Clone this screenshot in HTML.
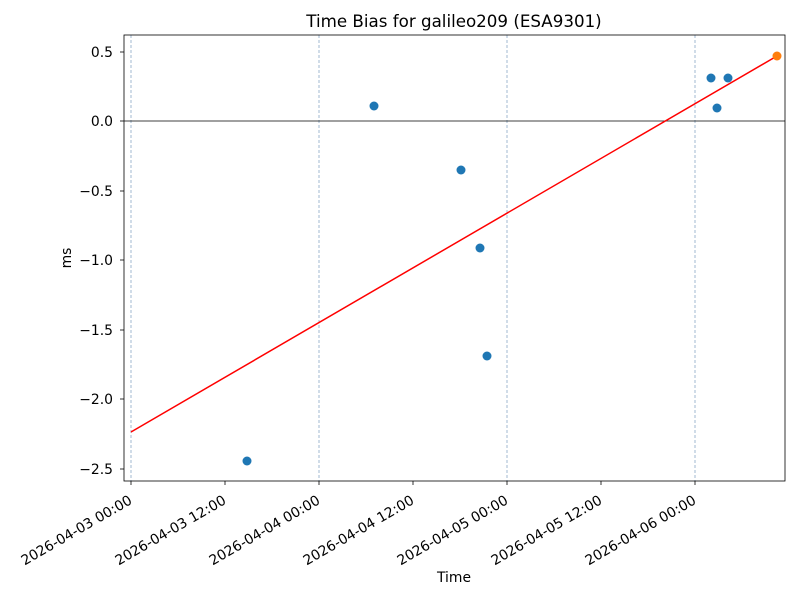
<!DOCTYPE html>
<html><head><meta charset="utf-8"><style>body{margin:0;background:#fff}</style></head><body>
<svg width="800" height="600" xmlns="http://www.w3.org/2000/svg" font-family="DejaVu Sans, sans-serif">
<rect width="800" height="600" fill="#fff"/>
<g stroke="#7a9cbf" stroke-width="0.7" stroke-dasharray="3,2">
<line x1="131" y1="35" x2="131" y2="481"/><line x1="319" y1="35" x2="319" y2="481"/>
<line x1="507" y1="35" x2="507" y2="481"/><line x1="695" y1="35" x2="695" y2="481"/>
</g>
<line x1="124" y1="121" x2="785" y2="121" stroke="#000" stroke-width="0.8"/>
<line x1="131" y1="432" x2="777" y2="56" stroke="#f00" stroke-width="1.5"/>
<g fill="#1f77b4">
<circle cx="247" cy="461" r="4.5"/><circle cx="374" cy="106" r="4.5"/><circle cx="461" cy="170" r="4.5"/>
<circle cx="480" cy="248" r="4.5"/><circle cx="487" cy="356" r="4.5"/><circle cx="711" cy="78" r="4.5"/>
<circle cx="717" cy="108" r="4.5"/><circle cx="728" cy="78" r="4.5"/>
</g>
<circle cx="777" cy="56" r="4.5" fill="#ff7f0e"/>
<rect x="124" y="35" width="661" height="446" fill="none" stroke="#000" stroke-width="0.8"/>
<g stroke="#000" stroke-width="0.8">
<line x1="120" y1="52" x2="124" y2="52"/><line x1="120" y1="121" x2="124" y2="121"/><line x1="120" y1="191" x2="124" y2="191"/>
<line x1="120" y1="260" x2="124" y2="260"/><line x1="120" y1="330" x2="124" y2="330"/><line x1="120" y1="399" x2="124" y2="399"/>
<line x1="120" y1="469" x2="124" y2="469"/>
<line x1="131" y1="481" x2="131" y2="485"/><line x1="225" y1="481" x2="225" y2="485"/><line x1="319" y1="481" x2="319" y2="485"/>
<line x1="413" y1="481" x2="413" y2="485"/><line x1="507" y1="481" x2="507" y2="485"/><line x1="601" y1="481" x2="601" y2="485"/>
<line x1="695" y1="481" x2="695" y2="485"/>
</g>
<g font-size="13.9" text-anchor="end" fill="#000">
<text x="113" y="57">0.5</text><text x="113" y="126">0.0</text><text x="113" y="196">−0.5</text>
<text x="113" y="265">−1.0</text><text x="113" y="335">−1.5</text><text x="113" y="404">−2.0</text><text x="113" y="474">−2.5</text>
<text transform="translate(133,503) rotate(-30)">2026-04-03 00:00</text>
<text transform="translate(227,503) rotate(-30)">2026-04-03 12:00</text>
<text transform="translate(321,503) rotate(-30)">2026-04-04 00:00</text>
<text transform="translate(415,503) rotate(-30)">2026-04-04 12:00</text>
<text transform="translate(509,503) rotate(-30)">2026-04-05 00:00</text>
<text transform="translate(603,503) rotate(-30)">2026-04-05 12:00</text>
<text transform="translate(697,503) rotate(-30)">2026-04-06 00:00</text>
</g>
<text x="454" y="582" font-size="13.9" text-anchor="middle">Time</text>
<text transform="translate(71,258) rotate(-90)" font-size="13.9" text-anchor="middle">ms</text>
<text x="454" y="27" font-size="16.7" text-anchor="middle">Time Bias for galileo209 (ESA9301)</text>
</svg>
</body></html>
